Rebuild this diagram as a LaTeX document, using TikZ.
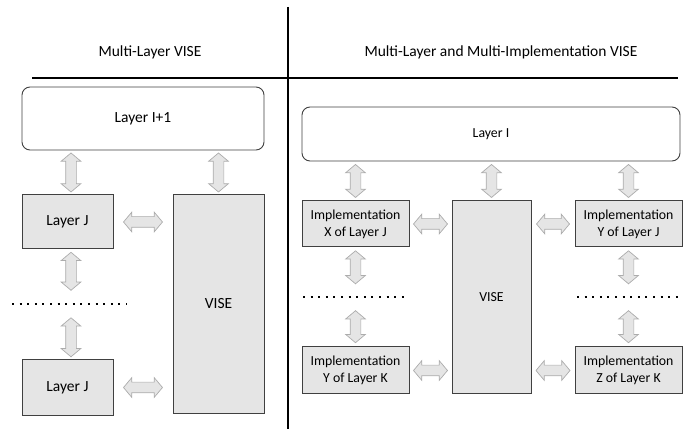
\documentclass[tikz,border=0pt]{standalone}
\usepackage{fontspec}
\setmainfont{Carlito}
\usepackage{tikz}
\usetikzlibrary{positioning}
\usetikzlibrary{shapes.arrows}

\begin{document}
\begin{tikzpicture}[x=1pt,y=1pt]

\tikzset{layer box/.style={
		draw=black!75, line width=0.9pt,
		fill=white,
		rounded corners=8pt,
		minimum height=#1,
		inner sep=0pt
	},
	layer box/.default=63pt,
	unit box/.style={
		draw=black!75, line width=1pt,
		fill=gray!20,
		align=center,
		inner sep=0pt
	},
	two way/.style={
		double arrow,
		draw=gray!65, line width=0.7pt,
		fill=gray!20,
		inner xsep=0pt, inner ysep=5pt,
		minimum height=#1,
		double arrow head extend=4.5pt,
		double arrow tip angle=100,
		sloped
	},
	two way/.default=39pt,
	dot row/.style={line width=2pt, dash pattern=on 2pt off 5.6pt},
	big text/.style={font=\fontsize{15.5}{18}\selectfont},
	small text/.style={font=\fontsize{13.8}{16.7}\selectfont}
}

\useasboundingbox (0,0) rectangle (689,429);
% frame lines
\draw[line width=1.3pt] (288,422) -- (288,0);
\draw[line width=1.1pt] (32,351) -- (678,351);
\node[big text, anchor=base] (titleL) at (150,372.5) {Multi-Layer VISE};
\node[big text, anchor=base] (titleR) at (501,372.5) {Multi-Layer and Multi-Implementation VISE};

% left part
\node[layer box, big text, minimum width=242pt] (upper) at (143,310.5) {Layer I+1};
\node[unit box, big text, minimum width=91pt, minimum height=54pt] (layJ) at (67.5,207) {Layer J};
\node[unit box, big text, minimum width=91pt, minimum height=55pt] (layJb) at (67.5,41.5) {Layer J};
\node[unit box, big text, minimum width=91pt, minimum height=218pt] (viseL) at (218.5,125) {VISE};
\coordinate (dotsL) at (12,125);
\draw[dot row] (dotsL) -- (127,125);
\coordinate (colL) at (71,0);

\path (colL |- upper.south) -- (colL |- layJ.north) node[two way, midway] {};
\path (upper.south -| viseL) -- (viseL.north) node[two way, midway] {};
\path (layJ.east) -- (viseL.west |- layJ.east) node[two way, midway] {};
\path (colL |- layJ.south) -- (colL |- dotsL) node[two way=38pt, pos=0.4] {};
\path (colL |- dotsL) -- (colL |- layJb.north) node[two way, pos=0.6] {};
\path (layJb.east) -- (viseL.west |- layJb.east) node[two way, midway] {};

% right part
\node[layer box=54pt, small text, minimum width=378pt] (lower) at (491,295) {Layer I};
\node[unit box, small text, minimum width=107pt, minimum height=46pt] (implXJ) at (355.5,205) {Implementation\\X of Layer J};
\node[unit box, small text, minimum width=107pt, minimum height=46pt] (implYJ) at (628.5,205) {Implementation\\Y of Layer J};
\node[unit box, small text, minimum width=79pt, minimum height=193pt] (viseR) at (491.5,131.5) {VISE};
\node[unit box, small text, minimum width=107pt, minimum height=47pt] (implYK) at (355.5,58.5) {Implementation\\Y of Layer K};
\node[unit box, small text, minimum width=107pt, minimum height=47pt] (implZK) at (628.5,58.5) {Implementation\\Z of Layer K};
\coordinate (dotsR) at (303,132);
\coordinate (dotsRb) at (577,132);
\draw[dot row] (dotsR) -- (407,132);
\draw[dot row] (dotsRb) -- (678,132);

\path (lower.south -| implXJ) -- (implXJ.north) node[two way=33pt, midway] {};
\path (lower.south -| viseR) -- (viseR.north) node[two way=33pt, midway] {};
\path (lower.south -| implYJ) -- (implYJ.north) node[two way=33pt, midway] {};
\path (implXJ.east) -- (viseR.west |- implXJ.east) node[two way=34pt, midway] {};
\path (viseR.east |- implYJ.west) -- (implYJ.west) node[two way=33pt, midway] {};
\path (implXJ.south) -- (implXJ.south |- dotsR) node[two way=33pt, pos=0.4] {};
\path (implYJ.south) -- (implYJ.south |- dotsR) node[two way=33pt, pos=0.4] {};
\path (implXJ.south |- dotsR) -- (implYK.north) node[two way=32pt, pos=0.6] {};
\path (implYJ.south |- dotsR) -- (implZK.north) node[two way=32pt, pos=0.6] {};
\path (implYK.east) -- (viseR.west |- implYK.east) node[two way=34pt, midway] {};
\path (viseR.east |- implZK.west) -- (implZK.west) node[two way=34pt, midway] {};
\end{tikzpicture}
\end{document}
